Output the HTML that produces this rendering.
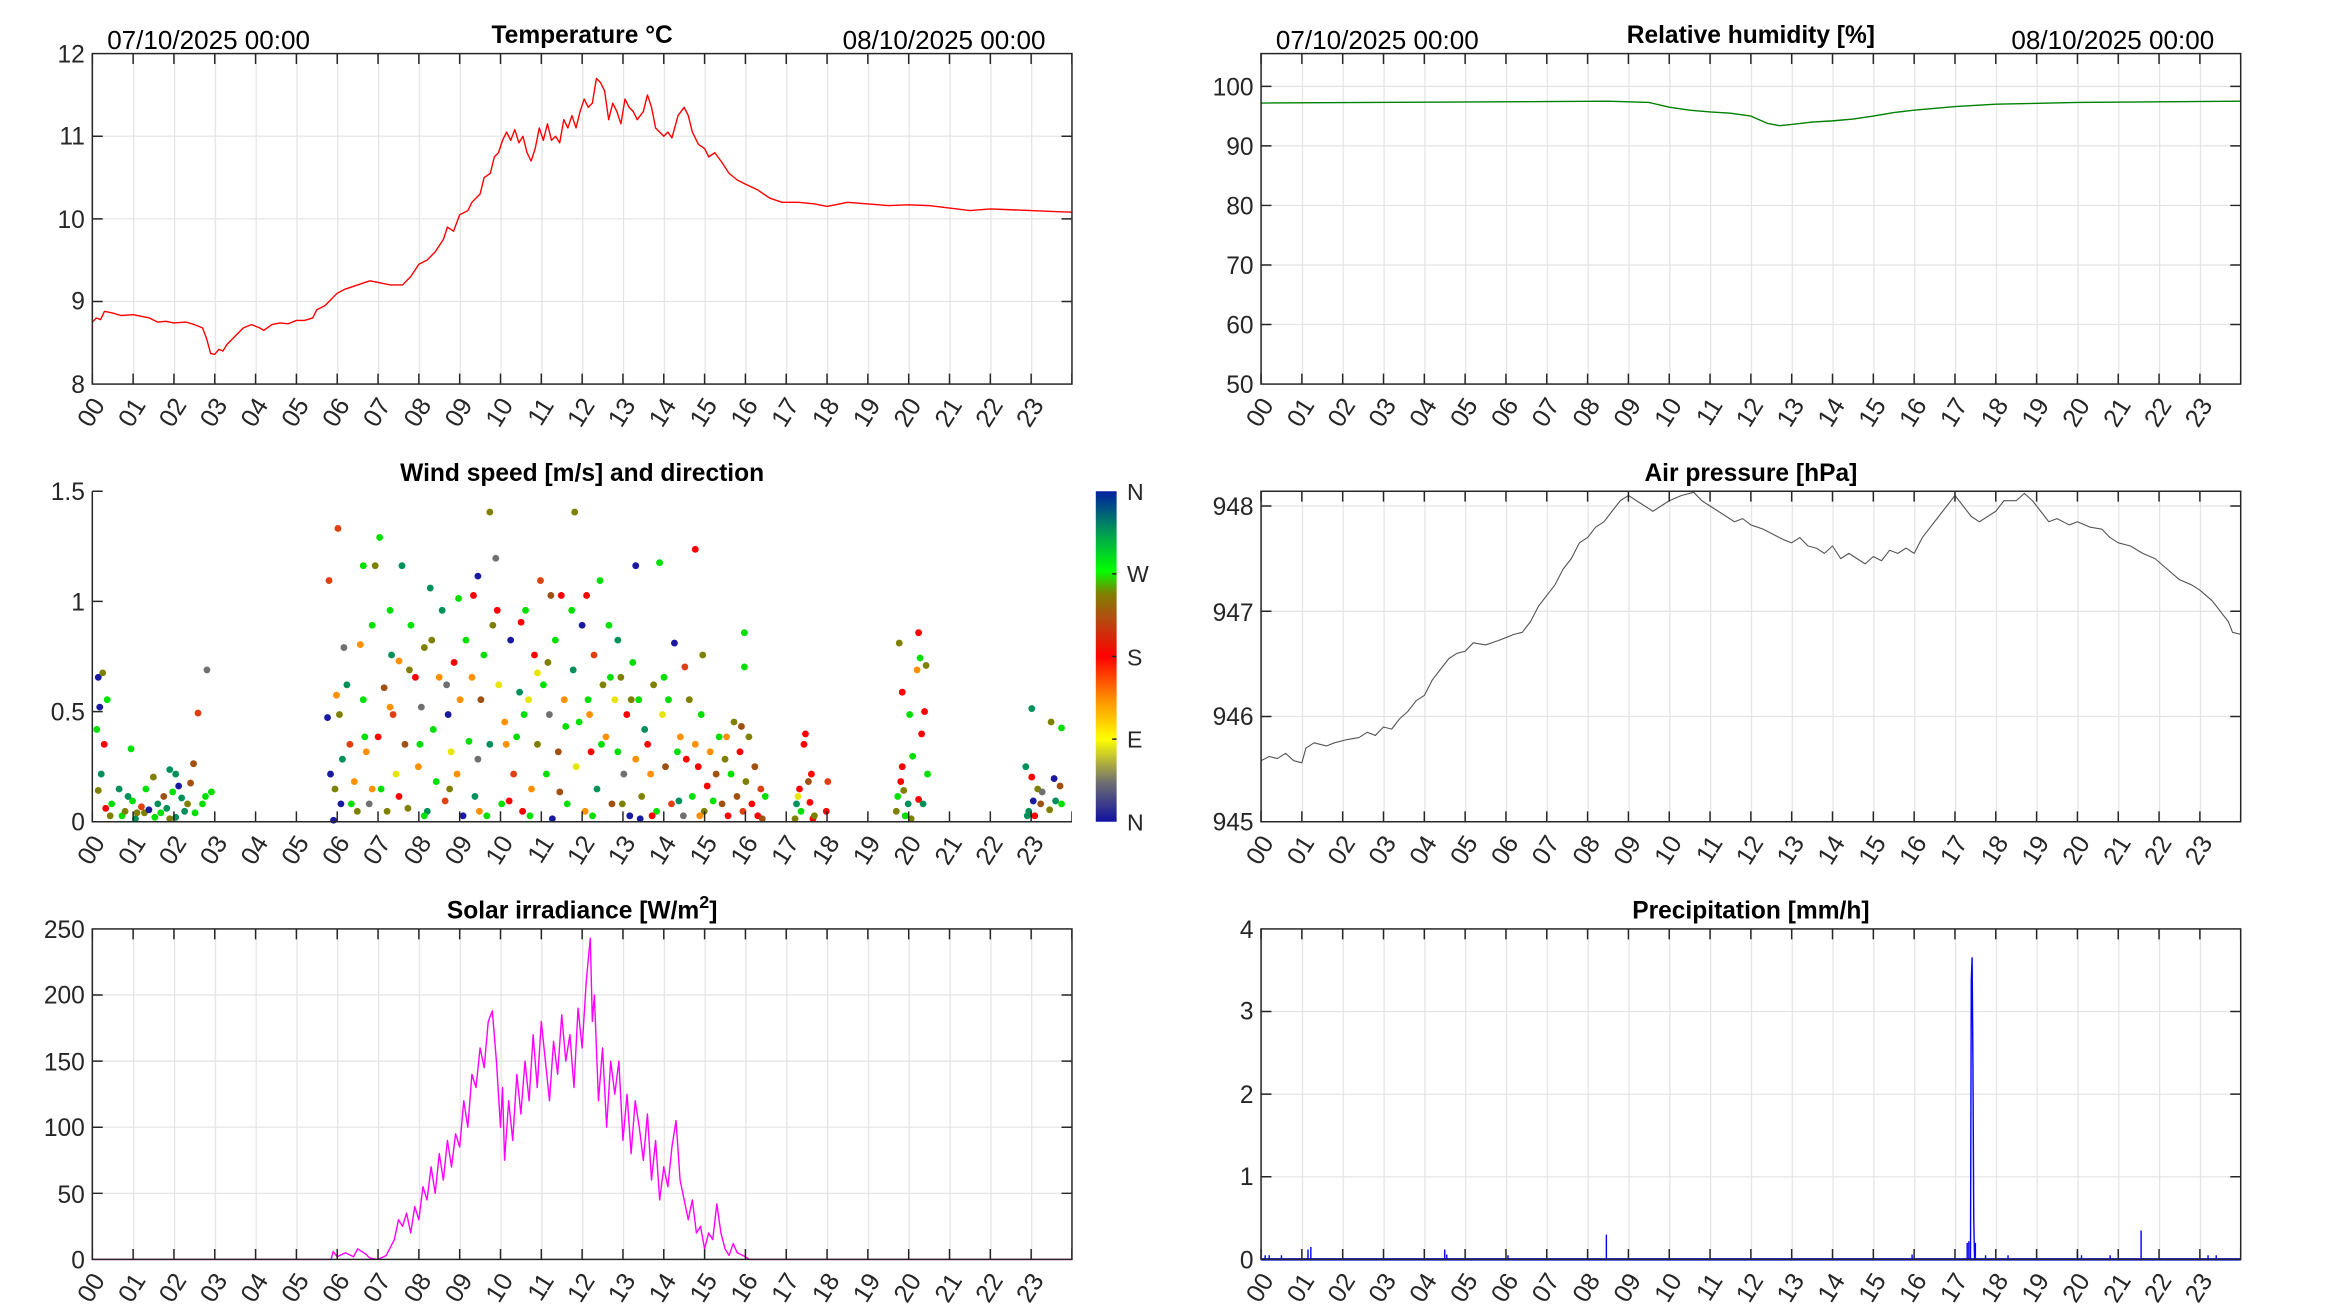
<!DOCTYPE html>
<html><head><meta charset="utf-8"><style>
html,body{margin:0;padding:0;background:#fff;}
svg{display:block;font-family:"Liberation Sans",Arial,sans-serif;}
.t{font-weight:bold;font-size:16.5px;fill:#000;text-anchor:middle;}
.d{font-size:17.5px;fill:#000;}
.yl{font-size:16.5px;fill:#262626;text-anchor:end;}
.xl text{font-size:17px;fill:#262626;text-anchor:end;}
.cb{font-size:15.5px;fill:#262626;}
.ax{stroke:#262626;stroke-width:1;fill:none;}
.gr{stroke:#e3e3e3;stroke-width:0.8;}
.tk{stroke:#262626;stroke-width:7;stroke-dasharray:1 26.4167;}
.ns{vector-effect:non-scaling-stroke;fill:none;stroke-width:1.4;stroke-linejoin:round;}
circle{r:2.3px;}
.B{fill:#1a1aa0}.G{fill:#00e000}.g{fill:#00905a}.O{fill:#808000}.R{fill:#ff0000}.r{fill:#e04010}.o{fill:#ff9000}.Y{fill:#e6e600}.b{fill:#a05010}.k{fill:#707070}
</style></head><body>
<svg width="2333" height="1313" viewBox="0 0 1567 882" preserveAspectRatio="none" xmlns="http://www.w3.org/2000/svg">
<defs>
<linearGradient id="cm" x1="0" y1="1" x2="0" y2="0">
<stop offset="0" stop-color="#1010a0"/><stop offset="0.12" stop-color="#707070"/>
<stop offset="0.25" stop-color="#ffff00"/><stop offset="0.37" stop-color="#ff9000"/>
<stop offset="0.5" stop-color="#ff0000"/><stop offset="0.62" stop-color="#b05010"/>
<stop offset="0.69" stop-color="#808000"/><stop offset="0.76" stop-color="#00ff00"/>
<stop offset="0.87" stop-color="#00a050"/><stop offset="1" stop-color="#0020a0"/>
</linearGradient>
<pattern id="vg" patternUnits="userSpaceOnUse" x="62" y="0" width="27.4167" height="882">
<line x1="0.4" y1="0" x2="0.4" y2="882" class="gr"/>
</pattern>
<pattern id="vg2" patternUnits="userSpaceOnUse" x="847" y="0" width="27.4167" height="882">
<line x1="0.4" y1="0" x2="0.4" y2="882" class="gr"/>
</pattern>
<g id="xl" class="xl">
<text transform="translate(9,14) rotate(-58)">00</text>
<text transform="translate(36.4,14) rotate(-58)">01</text>
<text transform="translate(63.8,14) rotate(-58)">02</text>
<text transform="translate(91.3,14) rotate(-58)">03</text>
<text transform="translate(118.7,14) rotate(-58)">04</text>
<text transform="translate(146.1,14) rotate(-58)">05</text>
<text transform="translate(173.5,14) rotate(-58)">06</text>
<text transform="translate(200.9,14) rotate(-58)">07</text>
<text transform="translate(228.3,14) rotate(-58)">08</text>
<text transform="translate(255.8,14) rotate(-58)">09</text>
<text transform="translate(283.2,14) rotate(-58)">10</text>
<text transform="translate(310.6,14) rotate(-58)">11</text>
<text transform="translate(338,14) rotate(-58)">12</text>
<text transform="translate(365.4,14) rotate(-58)">13</text>
<text transform="translate(392.8,14) rotate(-58)">14</text>
<text transform="translate(420.3,14) rotate(-58)">15</text>
<text transform="translate(447.7,14) rotate(-58)">16</text>
<text transform="translate(475.1,14) rotate(-58)">17</text>
<text transform="translate(502.5,14) rotate(-58)">18</text>
<text transform="translate(529.9,14) rotate(-58)">19</text>
<text transform="translate(557.3,14) rotate(-58)">20</text>
<text transform="translate(584.8,14) rotate(-58)">21</text>
<text transform="translate(612.2,14) rotate(-58)">22</text>
<text transform="translate(639.6,14) rotate(-58)">23</text>
</g>
</defs>

<!-- grids -->
<rect x="62" y="36" width="658" height="222" fill="url(#vg)"/>
<rect x="847" y="36" width="658" height="222" fill="url(#vg2)"/>
<rect x="847" y="330" width="658" height="222" fill="url(#vg2)"/>
<rect x="62" y="624" width="658" height="222" fill="url(#vg)"/>
<rect x="847" y="624" width="658" height="222" fill="url(#vg2)"/>
<g class="gr">
<line x1="62" x2="720" y1="91.5" y2="91.5"/><line x1="62" x2="720" y1="147" y2="147"/><line x1="62" x2="720" y1="202.5" y2="202.5"/>
<line x1="847" x2="1505" y1="58" y2="58"/><line x1="847" x2="1505" y1="98" y2="98"/><line x1="847" x2="1505" y1="138" y2="138"/><line x1="847" x2="1505" y1="178" y2="178"/><line x1="847" x2="1505" y1="218" y2="218"/>
<line x1="847" x2="1505" y1="339.9" y2="339.9"/><line x1="847" x2="1505" y1="410.6" y2="410.6"/><line x1="847" x2="1505" y1="481.3" y2="481.3"/>
<line x1="62" x2="720" y1="668.4" y2="668.4"/><line x1="62" x2="720" y1="712.8" y2="712.8"/><line x1="62" x2="720" y1="757.2" y2="757.2"/><line x1="62" x2="720" y1="801.6" y2="801.6"/>
<line x1="847" x2="1505" y1="679.5" y2="679.5"/><line x1="847" x2="1505" y1="735" y2="735"/><line x1="847" x2="1505" y1="790.5" y2="790.5"/>
</g>

<!-- temperature -->
<g transform="translate(62,258) scale(27.4167,-55.5)">
<path class="ns" stroke="#ff0000" d="M0 .75L.1 .8L.2 .78L.3 .88L.5 .86L.7 .83L1 .84L1.2 .82L1.4 .8L1.6 .75L1.8 .76L2 .74L2.3 .75L2.5 .72L2.7 .68L2.8 .55L2.9 .37L3 .36L3.1 .42L3.2 .4L3.3 .48L3.5 .58L3.7 .68L3.9 .72L4.1 .68L4.2 .65L4.4 .72L4.6 .74L4.8 .73L5 .77L5.2 .77L5.4 .8L5.5 .9L5.7 .95L5.8 1L6 1.1L6.2 1.15L6.5 1.2L6.8 1.25L7 1.23L7.3 1.2L7.6 1.2L7.8 1.3L8 1.45L8.2 1.5L8.4 1.6L8.6 1.75L8.7 1.9L8.85 1.85L9 2.05L9.2 2.1L9.3 2.2L9.5 2.3L9.6 2.5L9.75 2.55L9.85 2.75L9.95 2.8L10.05 2.95L10.15 3.05L10.25 2.95L10.35 3.08L10.45 2.92L10.55 3L10.65 2.8L10.75 2.7L10.85 2.85L10.95 3.1L11.05 2.95L11.15 3.15L11.25 2.95L11.35 3L11.45 2.92L11.55 3.2L11.65 3.1L11.75 3.25L11.85 3.1L11.95 3.3L12.05 3.45L12.15 3.35L12.25 3.4L12.35 3.7L12.45 3.65L12.55 3.55L12.65 3.2L12.75 3.4L12.85 3.3L12.95 3.15L13.05 3.45L13.15 3.35L13.25 3.3L13.35 3.2L13.5 3.3L13.6 3.5L13.7 3.35L13.8 3.1L13.9 3.05L14 3L14.1 3.05L14.2 2.98L14.35 3.25L14.5 3.35L14.6 3.25L14.7 3.05L14.85 2.9L15 2.85L15.1 2.75L15.25 2.8L15.4 2.7L15.6 2.55L15.8 2.47L16 2.42L16.3 2.35L16.6 2.25L16.9 2.2L17.3 2.2L17.7 2.18L18 2.15L18.2 2.17L18.5 2.2L19 2.18L19.5 2.16L20 2.17L20.5 2.16L21 2.13L21.5 2.1L22 2.12L22.5 2.11L23 2.1L23.5 2.09L24 2.08"/>
</g>
<!-- humidity -->
<g transform="translate(847,258) scale(27.4167,-4)">
<path class="ns" stroke="#008000" d="M0 47.2L8.5 47.5L9.5 47.3L10 46.5L10.5 46L11 45.7L11.5 45.5L12 45L12.4 43.8L12.7 43.4L13 43.6L13.5 44L14 44.2L14.5 44.5L15 45L15.5 45.6L16 46L17 46.6L18 47L20 47.3L24 47.5"/>
</g>
<!-- pressure -->
<g transform="translate(847,552) scale(27.4167,-70.7)">
<path class="ns" stroke="#555555" style="stroke-width:1.1" d="M0 .58L.2 .62L.4 .6L.6 .65L.8 .58L1 .56L1.1 .7L1.3 .75L1.6 .72L1.8 .75L2.1 .78L2.4 .8L2.6 .85L2.8 .82L3 .9L3.2 .88L3.4 .98L3.6 1.05L3.8 1.15L4 1.2L4.2 1.35L4.4 1.45L4.6 1.55L4.8 1.6L5 1.62L5.2 1.7L5.5 1.68L5.8 1.72L6 1.75L6.2 1.78L6.4 1.8L6.6 1.9L6.8 2.05L7 2.15L7.2 2.25L7.4 2.4L7.6 2.5L7.8 2.65L8 2.7L8.2 2.8L8.4 2.85L8.6 2.95L8.8 3.05L9 3.1L9.2 3.05L9.4 3L9.6 2.95L9.8 3L10 3.05L10.3 3.1L10.6 3.13L10.8 3.05L11 3L11.2 2.95L11.4 2.9L11.6 2.85L11.8 2.88L12 2.82L12.3 2.78L12.6 2.72L12.8 2.68L13 2.65L13.2 2.7L13.4 2.62L13.6 2.6L13.8 2.55L14 2.62L14.2 2.5L14.4 2.55L14.6 2.5L14.8 2.45L15 2.52L15.2 2.48L15.4 2.58L15.6 2.55L15.8 2.6L16 2.55L16.2 2.7L16.4 2.8L16.6 2.9L16.8 3L17 3.1L17.2 3L17.4 2.9L17.6 2.85L17.8 2.9L18 2.95L18.2 3.05L18.5 3.05L18.7 3.12L18.9 3.05L19.1 2.95L19.3 2.85L19.5 2.88L19.8 2.82L20 2.85L20.3 2.8L20.6 2.78L20.8 2.7L21 2.65L21.3 2.62L21.6 2.55L21.9 2.5L22.2 2.4L22.5 2.3L22.8 2.25L23 2.2L23.3 2.1L23.5 2L23.7 1.9L23.8 1.8L24 1.78"/>
</g>
<!-- solar -->
<g transform="translate(62,846) scale(27.4167,-0.888)">
<path class="ns" stroke="#ff00ff" d="M0 0L5.85 0L5.9 6L6 2L6.2 5L6.4 2L6.5 8L6.7 4L6.8 1L7 0L7.2 3L7.4 15L7.5 30L7.6 25L7.7 35L7.8 20L7.9 40L8 30L8.1 55L8.2 45L8.3 70L8.4 50L8.5 80L8.6 60L8.7 90L8.8 70L8.9 95L9 85L9.1 120L9.2 100L9.3 140L9.4 130L9.5 160L9.6 145L9.7 180L9.8 188L9.9 150L10 100L10.05 130L10.1 75L10.2 120L10.3 90L10.4 140L10.5 110L10.6 150L10.7 120L10.8 170L10.9 130L11 180L11.1 150L11.2 120L11.3 165L11.4 140L11.5 185L11.6 150L11.7 170L11.8 130L11.9 190L12 160L12.1 210L12.2 243L12.25 180L12.3 200L12.4 120L12.5 160L12.6 100L12.7 150L12.8 125L12.9 150L13 90L13.1 125L13.2 80L13.3 120L13.4 100L13.5 75L13.6 110L13.7 60L13.8 90L13.9 45L14 70L14.1 55L14.2 85L14.3 105L14.4 60L14.5 45L14.6 30L14.7 45L14.8 20L14.9 25L15 8L15.1 20L15.2 15L15.3 42L15.4 20L15.5 8L15.6 3L15.7 12L15.8 5L16 2L16.1 0L24 0"/>
</g>
<!-- precipitation -->
<g transform="translate(847,846) scale(27.4167,-55.5)">
<path class="ns" stroke="#0000ff" style="stroke-width:2.5" d="M0 0L24 0"/>
<path class="ns" stroke="#0000ff" d="M.1 0V.05M.2 0V.05M.5 0V.05M1.15 0V.12M1.22 0V.15M4.5 0V.12M4.55 0V.06M6.05 0V.05M8.46 0V.3M15.95 0V.06M17.3 0V.2M17.34 0V.22M17.38 0L17.4 3.38L17.42 3.65L17.44 2.4L17.46 .5L17.48 0M17.5 0V.2M17.75 0V.05M18.3 0V.05M20 0V.1M20.1 0V.05M20.8 0V.05M21.56 0V.35M23.2 0V.05M23.4 0V.05"/>
</g>

<!-- wind scatter -->
<g>
<circle class="B" cx="66" cy="455"/><circle class="B" cx="67" cy="475"/><circle class="O" cx="69" cy="452"/><circle class="g" cx="68" cy="520"/><circle class="R" cx="70" cy="500"/><circle class="O" cx="66" cy="531"/><circle class="R" cx="71" cy="543"/><circle class="G" cx="65" cy="490"/><circle class="G" cx="72" cy="470"/><circle class="O" cx="74" cy="548"/><circle class="G" cx="75" cy="540"/><circle class="g" cx="80" cy="530"/><circle class="G" cx="82" cy="548"/><circle class="O" cx="84" cy="545"/><circle class="G" cx="88" cy="503"/><circle class="G" cx="89" cy="538"/><circle class="g" cx="91" cy="550"/><circle class="r" cx="95" cy="542"/><circle class="O" cx="97" cy="546"/><circle class="B" cx="100" cy="544"/><circle class="O" cx="103" cy="522"/><circle class="g" cx="106" cy="540"/><circle class="G" cx="108" cy="546"/><circle class="b" cx="110" cy="535"/><circle class="g" cx="112" cy="543"/><circle class="g" cx="114" cy="517"/><circle class="G" cx="116" cy="532"/><circle class="g" cx="118" cy="549"/><circle class="B" cx="120" cy="528"/><circle class="g" cx="122" cy="536"/><circle class="g" cx="124" cy="545"/><circle class="O" cx="126" cy="540"/><circle class="b" cx="128" cy="526"/><circle class="b" cx="130" cy="513"/><circle class="r" cx="133" cy="479"/><circle class="G" cx="136" cy="540"/><circle class="G" cx="138" cy="535"/><circle class="k" cx="139" cy="450"/><circle class="O" cx="92" cy="546"/><circle class="g" cx="86" cy="535"/><circle class="G" cx="104" cy="549"/><circle class="O" cx="114" cy="550"/><circle class="G" cx="98" cy="530"/><circle class="G" cx="131" cy="546"/><circle class="G" cx="142" cy="532"/><circle class="g" cx="118" cy="520"/>
<circle class="B" cx="220" cy="482"/><circle class="B" cx="222" cy="520"/><circle class="B" cx="224" cy="551"/><circle class="r" cx="221" cy="390"/><circle class="o" cx="226" cy="467"/><circle class="O" cx="228" cy="480"/><circle class="g" cx="230" cy="510"/><circle class="k" cx="231" cy="435"/><circle class="g" cx="233" cy="460"/><circle class="r" cx="235" cy="500"/><circle class="r" cx="227" cy="355"/><circle class="o" cx="238" cy="525"/><circle class="O" cx="240" cy="545"/><circle class="o" cx="242" cy="433"/><circle class="G" cx="244" cy="470"/><circle class="o" cx="246" cy="505"/><circle class="k" cx="248" cy="540"/><circle class="G" cx="250" cy="420"/><circle class="O" cx="252" cy="380"/><circle class="R" cx="254" cy="495"/><circle class="G" cx="256" cy="530"/><circle class="b" cx="258" cy="462"/><circle class="O" cx="260" cy="545"/><circle class="G" cx="262" cy="410"/><circle class="r" cx="264" cy="480"/><circle class="Y" cx="266" cy="520"/><circle class="o" cx="268" cy="444"/><circle class="g" cx="270" cy="380"/><circle class="b" cx="272" cy="500"/><circle class="O" cx="274" cy="543"/><circle class="G" cx="276" cy="420"/><circle class="G" cx="255" cy="361"/><circle class="R" cx="279" cy="455"/><circle class="o" cx="281" cy="515"/><circle class="k" cx="283" cy="475"/><circle class="O" cx="285" cy="435"/><circle class="g" cx="287" cy="545"/><circle class="g" cx="289" cy="395"/><circle class="G" cx="291" cy="490"/><circle class="G" cx="293" cy="525"/><circle class="o" cx="295" cy="455"/><circle class="g" cx="297" cy="410"/><circle class="r" cx="299" cy="538"/><circle class="B" cx="301" cy="480"/><circle class="Y" cx="303" cy="505"/><circle class="R" cx="305" cy="445"/><circle class="o" cx="307" cy="520"/><circle class="o" cx="309" cy="470"/><circle class="B" cx="311" cy="548"/><circle class="G" cx="313" cy="430"/><circle class="G" cx="315" cy="498"/><circle class="o" cx="317" cy="455"/><circle class="g" cx="319" cy="535"/><circle class="k" cx="321" cy="510"/><circle class="b" cx="323" cy="470"/><circle class="G" cx="325" cy="440"/><circle class="G" cx="327" cy="548"/><circle class="g" cx="329" cy="500"/><circle class="O" cx="331" cy="420"/><circle class="k" cx="333" cy="375"/><circle class="Y" cx="335" cy="460"/><circle class="G" cx="337" cy="540"/><circle class="o" cx="339" cy="485"/><circle class="O" cx="329" cy="344"/><circle class="B" cx="343" cy="430"/><circle class="r" cx="345" cy="520"/><circle class="G" cx="347" cy="495"/><circle class="g" cx="349" cy="465"/><circle class="R" cx="351" cy="545"/><circle class="G" cx="353" cy="410"/><circle class="Y" cx="355" cy="470"/><circle class="o" cx="357" cy="530"/><circle class="R" cx="359" cy="440"/><circle class="O" cx="361" cy="500"/><circle class="r" cx="363" cy="390"/><circle class="G" cx="365" cy="460"/><circle class="G" cx="367" cy="520"/><circle class="k" cx="369" cy="480"/><circle class="B" cx="371" cy="550"/><circle class="G" cx="373" cy="430"/><circle class="b" cx="375" cy="505"/><circle class="R" cx="377" cy="400"/><circle class="o" cx="379" cy="470"/><circle class="G" cx="381" cy="540"/><circle class="O" cx="386" cy="344"/><circle class="g" cx="385" cy="450"/><circle class="Y" cx="387" cy="515"/><circle class="G" cx="389" cy="485"/><circle class="B" cx="391" cy="420"/><circle class="o" cx="393" cy="545"/><circle class="G" cx="395" cy="470"/><circle class="R" cx="397" cy="505"/><circle class="r" cx="399" cy="440"/><circle class="g" cx="401" cy="530"/><circle class="G" cx="403" cy="390"/><circle class="O" cx="405" cy="460"/><circle class="o" cx="407" cy="495"/><circle class="G" cx="409" cy="420"/><circle class="b" cx="411" cy="540"/><circle class="Y" cx="413" cy="470"/><circle class="G" cx="415" cy="505"/><circle class="O" cx="417" cy="455"/><circle class="k" cx="419" cy="520"/><circle class="R" cx="421" cy="480"/><circle class="B" cx="423" cy="548"/><circle class="G" cx="425" cy="445"/><circle class="o" cx="427" cy="510"/><circle class="G" cx="429" cy="470"/><circle class="O" cx="431" cy="535"/><circle class="g" cx="433" cy="490"/><circle class="R" cx="435" cy="500"/><circle class="o" cx="437" cy="520"/><circle class="O" cx="439" cy="460"/><circle class="G" cx="441" cy="545"/><circle class="G" cx="443" cy="378"/><circle class="Y" cx="445" cy="480"/><circle class="b" cx="447" cy="515"/><circle class="G" cx="449" cy="470"/><circle class="r" cx="451" cy="540"/><circle class="B" cx="453" cy="432"/><circle class="G" cx="455" cy="505"/><circle class="o" cx="457" cy="495"/><circle class="k" cx="459" cy="548"/><circle class="R" cx="461" cy="510"/><circle class="O" cx="463" cy="470"/><circle class="G" cx="465" cy="535"/><circle class="o" cx="467" cy="500"/><circle class="R" cx="469" cy="515"/><circle class="G" cx="471" cy="480"/><circle class="O" cx="473" cy="545"/><circle class="R" cx="475" cy="528"/><circle class="o" cx="477" cy="505"/><circle class="G" cx="479" cy="538"/><circle class="b" cx="481" cy="520"/><circle class="G" cx="483" cy="495"/><circle class="b" cx="485" cy="540"/><circle class="O" cx="487" cy="510"/><circle class="R" cx="489" cy="548"/><circle class="G" cx="491" cy="520"/><circle class="O" cx="493" cy="485"/><circle class="b" cx="495" cy="535"/><circle class="R" cx="497" cy="505"/><circle class="r" cx="499" cy="545"/><circle class="O" cx="501" cy="525"/><circle class="O" cx="503" cy="495"/><circle class="R" cx="505" cy="540"/><circle class="b" cx="507" cy="515"/><circle class="R" cx="509" cy="548"/><circle class="r" cx="511" cy="530"/><circle class="G" cx="500" cy="425"/><circle class="G" cx="500" cy="448"/><circle class="G" cx="514" cy="535"/><circle class="b" cx="512" cy="550"/><circle class="B" cx="229" cy="540"/><circle class="O" cx="225" cy="530"/><circle class="G" cx="245" cy="495"/><circle class="g" cx="263" cy="440"/><circle class="O" cx="275" cy="450"/><circle class="G" cx="282" cy="500"/><circle class="O" cx="290" cy="430"/><circle class="k" cx="300" cy="460"/><circle class="R" cx="318" cy="400"/><circle class="B" cx="321" cy="387"/><circle class="o" cx="340" cy="500"/><circle class="R" cx="350" cy="418"/><circle class="Y" cx="361" cy="452"/><circle class="b" cx="370" cy="400"/><circle class="G" cx="380" cy="488"/><circle class="o" cx="396" cy="480"/><circle class="G" cx="404" cy="500"/><circle class="g" cx="415" cy="430"/><circle class="B" cx="427" cy="380"/><circle class="R" cx="467" cy="369"/><circle class="G" cx="446" cy="455"/><circle class="r" cx="460" cy="448"/><circle class="O" cx="472" cy="440"/><circle class="o" cx="488" cy="495"/><circle class="b" cx="498" cy="488"/><circle class="G" cx="236" cy="540"/><circle class="o" cx="250" cy="530"/><circle class="R" cx="268" cy="535"/><circle class="G" cx="285" cy="548"/><circle class="O" cx="302" cy="530"/><circle class="o" cx="322" cy="545"/><circle class="R" cx="342" cy="538"/><circle class="G" cx="356" cy="548"/><circle class="b" cx="376" cy="532"/><circle class="G" cx="398" cy="548"/><circle class="O" cx="418" cy="540"/><circle class="R" cx="438" cy="548"/><circle class="g" cx="456" cy="538"/><circle class="o" cx="470" cy="548"/><circle class="B" cx="430" cy="550"/><circle class="G" cx="244" cy="380"/><circle class="o" cx="262" cy="475"/><circle class="G" cx="308" cy="402"/><circle class="R" cx="334" cy="410"/><circle class="G" cx="352" cy="480"/><circle class="O" cx="368" cy="445"/><circle class="G" cx="384" cy="410"/><circle class="R" cx="394" cy="400"/><circle class="G" cx="410" cy="455"/><circle class="O" cx="424" cy="470"/>
<circle class="O" cx="534" cy="550"/><circle class="g" cx="535" cy="540"/><circle class="R" cx="537" cy="530"/><circle class="G" cx="538" cy="545"/><circle class="R" cx="540" cy="500"/><circle class="R" cx="541" cy="493"/><circle class="b" cx="543" cy="525"/><circle class="R" cx="545" cy="520"/><circle class="R" cx="546" cy="550"/><circle class="O" cx="547" cy="548"/><circle class="Y" cx="536" cy="535"/><circle class="R" cx="544" cy="539"/><circle class="r" cx="556" cy="525"/><circle class="R" cx="555" cy="545"/>
<circle class="O" cx="602" cy="545"/><circle class="G" cx="603" cy="535"/><circle class="O" cx="604" cy="432"/><circle class="R" cx="605" cy="525"/><circle class="R" cx="606" cy="515"/><circle class="G" cx="608" cy="548"/><circle class="g" cx="610" cy="540"/><circle class="G" cx="611" cy="480"/><circle class="O" cx="612" cy="550"/><circle class="R" cx="617" cy="425"/><circle class="o" cx="616" cy="450"/><circle class="R" cx="617" cy="537"/><circle class="R" cx="619" cy="493"/><circle class="G" cx="618" cy="442"/><circle class="g" cx="620" cy="540"/><circle class="R" cx="621" cy="478"/><circle class="O" cx="622" cy="447"/><circle class="G" cx="623" cy="520"/><circle class="G" cx="613" cy="508"/><circle class="O" cx="607" cy="531"/><circle class="R" cx="606" cy="465"/>
<circle class="g" cx="689" cy="515"/><circle class="g" cx="690" cy="548"/><circle class="g" cx="691" cy="545"/><circle class="R" cx="693" cy="522"/><circle class="B" cx="694" cy="538"/><circle class="R" cx="695" cy="548"/><circle class="O" cx="697" cy="530"/><circle class="b" cx="699" cy="540"/><circle class="k" cx="700" cy="532"/><circle class="B" cx="708" cy="523"/><circle class="O" cx="705" cy="544"/><circle class="g" cx="709" cy="538"/><circle class="G" cx="713" cy="540"/><circle class="b" cx="712" cy="528"/><circle class="O" cx="706" cy="485"/><circle class="G" cx="713" cy="489"/><circle class="g" cx="693" cy="476"/>
</g>

<!-- axes & ticks -->
<g class="ax">
<rect x="62" y="36" width="658" height="222"/>
<rect x="847" y="36" width="658" height="222"/>
<rect x="847" y="330" width="658" height="222"/>
<rect x="62" y="624" width="658" height="222"/>
<rect x="847" y="624" width="658" height="222"/>
<path d="M62 330V552H720"/>
</g>
<g class="tk">
<line x1="61.5" x2="720" y1="254.5" y2="254.5"/><line x1="61.5" x2="720" y1="39.5" y2="39.5"/>
<line x1="846.5" x2="1505" y1="254.5" y2="254.5"/><line x1="846.5" x2="1505" y1="39.5" y2="39.5"/>
<line x1="61.5" x2="720" y1="548.5" y2="548.5"/>
<line x1="846.5" x2="1505" y1="548.5" y2="548.5"/><line x1="846.5" x2="1505" y1="333.5" y2="333.5"/>
<line x1="61.5" x2="720" y1="842.5" y2="842.5"/><line x1="61.5" x2="720" y1="627.5" y2="627.5"/>
<line x1="846.5" x2="1505" y1="842.5" y2="842.5"/><line x1="846.5" x2="1505" y1="627.5" y2="627.5"/>
</g>
<path class="ax" d="M62 91.5h7M62 147h7M62 202.5h7M720 91.5h-7M720 147h-7M720 202.5h-7
M847 58h7M847 98h7M847 138h7M847 178h7M847 218h7M1505 58h-7M1505 98h-7M1505 138h-7M1505 178h-7M1505 218h-7
M62 330h7M62 404h7M62 478h7
M847 339.9h7M847 410.6h7M847 481.3h7M1505 339.9h-7M1505 410.6h-7M1505 481.3h-7
M62 668.4h7M62 712.8h7M62 757.2h7M62 801.6h7M720 668.4h-7M720 712.8h-7M720 757.2h-7M720 801.6h-7
M847 679.5h7M847 735h7M847 790.5h7M1505 679.5h-7M1505 735h-7M1505 790.5h-7"/>

<text class="t" x="391" y="29">Temperature °C</text>
<text class="d" x="72" y="33">07/10/2025 00:00</text>
<text class="d" x="566" y="33">08/10/2025 00:00</text>
<text class="t" x="1176" y="29">Relative humidity [%]</text>
<text class="d" x="857" y="33">07/10/2025 00:00</text>
<text class="d" x="1351" y="33">08/10/2025 00:00</text>
<text class="t" x="391" y="323">Wind speed [m/s] and direction</text>
<text class="t" x="1176" y="323">Air pressure [hPa]</text>
<text class="t" x="391" y="617">Solar irradiance [W/m<tspan dy="-7" font-size="12">2</tspan><tspan dy="7">]</tspan></text>
<text class="t" x="1176" y="617">Precipitation [mm/h]</text>

<g class="yl">
<text x="57" y="42">12</text><text x="57" y="97">11</text><text x="57" y="153">10</text><text x="57" y="208">9</text><text x="57" y="264">8</text>
<text x="842" y="64">100</text><text x="842" y="104">90</text><text x="842" y="144">80</text><text x="842" y="184">70</text><text x="842" y="224">60</text><text x="842" y="264">50</text>
<text x="57" y="336">1.5</text><text x="57" y="410">1</text><text x="57" y="484">0.5</text><text x="57" y="558">0</text>
<text x="842" y="346">948</text><text x="842" y="417">947</text><text x="842" y="487">946</text><text x="842" y="558">945</text>
<text x="57" y="630">250</text><text x="57" y="674">200</text><text x="57" y="719">150</text><text x="57" y="763">100</text><text x="57" y="808">50</text><text x="57" y="852">0</text>
<text x="842" y="630">4</text><text x="842" y="685">3</text><text x="842" y="741">2</text><text x="842" y="796">1</text><text x="842" y="852">0</text>
</g>
<rect x="736" y="330" width="14" height="222" fill="url(#cm)"/>
<path class="ax" d="M750 385.5h-3M750 441h-3M750 496.5h-3"/>
<g class="cb">
<text x="757" y="336">N</text><text x="757" y="391">W</text><text x="757" y="447">S</text><text x="757" y="502">E</text><text x="757" y="558">N</text>
</g>

<use href="#xl" x="62" y="258"/>
<use href="#xl" x="847" y="258"/>
<use href="#xl" x="62" y="552"/>
<use href="#xl" x="847" y="552"/>
<use href="#xl" x="62" y="846"/>
<use href="#xl" x="847" y="846"/>
</svg>
</body></html>
